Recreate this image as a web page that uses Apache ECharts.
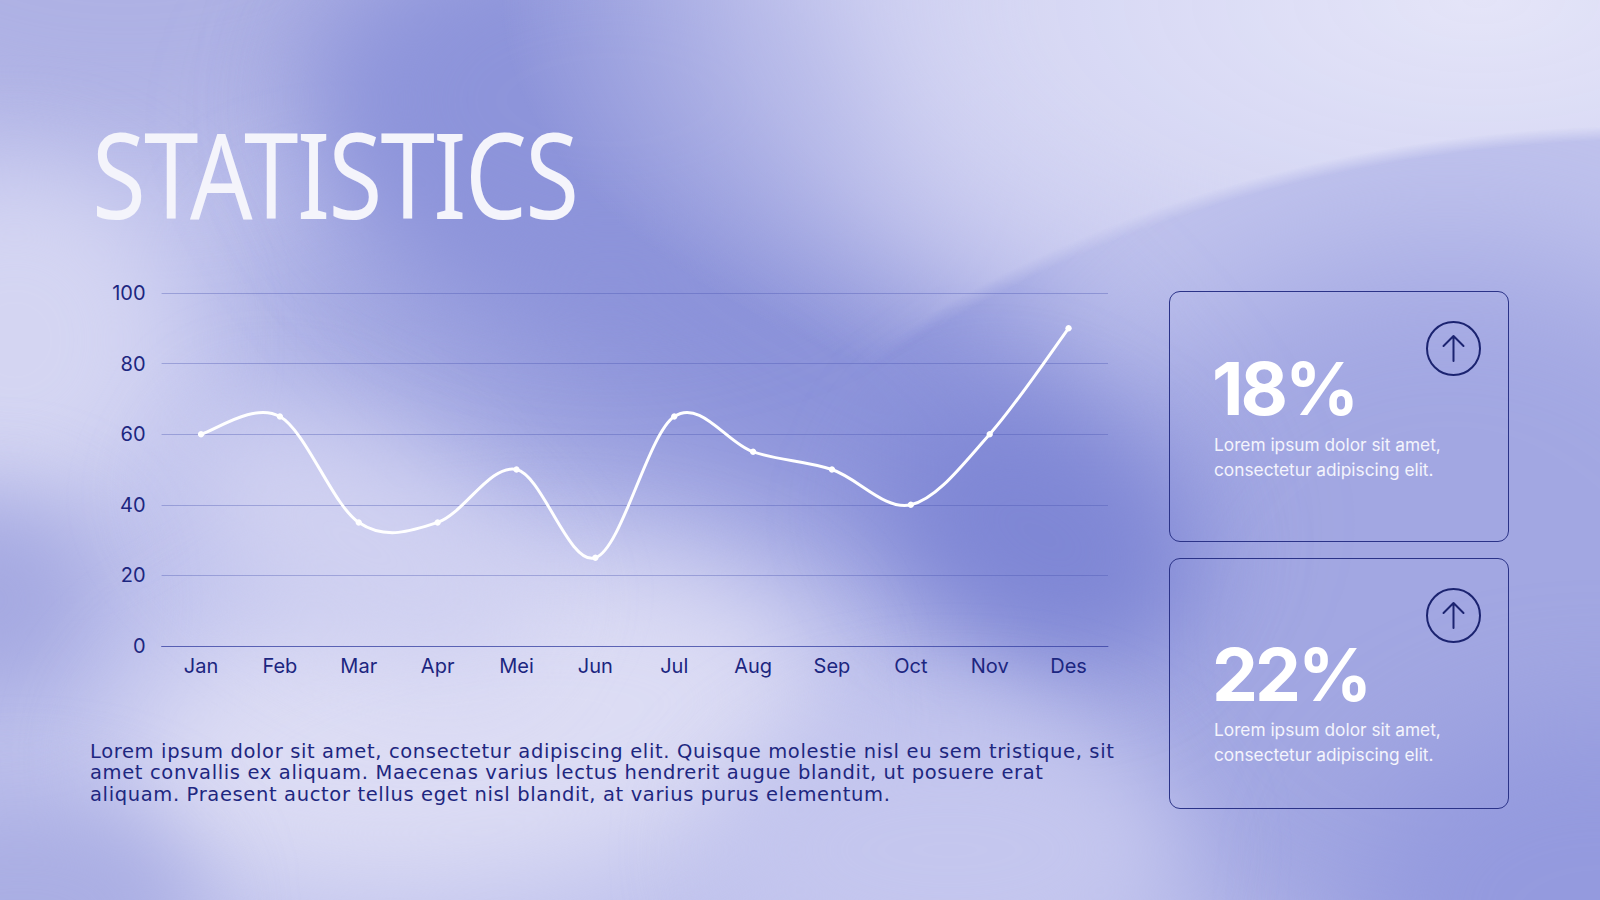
<!DOCTYPE html>
<html>
<head>
<meta charset="utf-8">
<script src="https://cdn.jsdelivr.net/npm/echarts@6/dist/echarts.min.js"></script>
<style>
  html, body { margin:0; padding:0; width:1600px; height:900px; overflow:hidden; }
  body { position:relative; background:#bfc2ed; }
  .bg { position:absolute; left:0; top:0; width:1600px; height:900px; overflow:hidden; }
  .blob { position:absolute; border-radius:50%; }
  #chart { position:absolute; left:0; top:0; width:1600px; height:900px; }
  .title {
    position:absolute; left:92px; top:104px;
    font-family: "Noto Sans", sans-serif; font-weight:400;
    font-size:118px; line-height:140px; color:#f4f4fb; letter-spacing:-2px;
    transform-origin:left top; transform:scaleX(0.83);
    white-space:nowrap;
  }
  .para {
    position:absolute; left:90px;
    font-family: "DejaVu Sans", sans-serif; font-size:19.5px; line-height:21.4px; height:21.4px;
    color:#1e2780; white-space:nowrap; letter-spacing:0.64px;
  }
  .card {
    position:absolute; left:1169px; width:338px; height:249px;
    border:1.3px solid #2b3388; border-radius:11px;
  }
  .circle {
    position:absolute; width:51px; height:51px; border:2px solid #1b2370; border-radius:50%;
  }
  .big {
    position:absolute; left:1212px; font-family: Inter, sans-serif; font-weight:700;
    font-size:73px; line-height:73px; color:#ffffff; letter-spacing:-3px; white-space:nowrap;
  }
  .sub {
    position:absolute; left:1214px; font-family: Inter, sans-serif; font-weight:400;
    font-size:17.3px; line-height:24.5px; color:#f4f4fc; white-space:nowrap;
  }
</style>
</head>
<body>
<div class="bg">
  <!-- right side medium -->
  <div class="blob" style="left:1050px; top:250px; width:800px; height:750px; background:#a2a7e2; filter:blur(70px);"></div>
  <!-- top-left medium -->
  <div class="blob" style="left:-200px; top:-180px; width:650px; height:330px; background:#aeb1e4; filter:blur(60px);"></div>
  <!-- chart-area medium -->
  <div class="blob" style="left:230px; top:250px; width:480px; height:220px; background:#a6abe3; transform:rotate(20deg); filter:blur(60px);"></div>
  <!-- dark diagonal band -->
  <div class="blob" style="left:250px; top:140px; width:1000px; height:360px; background:#8c93da; transform:rotate(33deg); filter:blur(70px);"></div>
  <div class="blob" style="left:330px; top:-90px; width:560px; height:380px; background:#8d94da; filter:blur(60px);"></div>
  <div class="blob" style="left:880px; top:420px; width:320px; height:230px; background:#7f87d5; transform:rotate(30deg); filter:blur(50px);"></div>
  <!-- bottom right -->
  <div class="blob" style="left:1350px; top:720px; width:500px; height:380px; background:#949ade; filter:blur(60px);"></div>
  <!-- left light strip -->
  <div class="blob" style="left:-150px; top:170px; width:330px; height:340px; background:#d4d5f2; filter:blur(50px);"></div>
  <!-- left middle medium -->
  <div class="blob" style="left:-120px; top:500px; width:220px; height:200px; background:#a5a9e1; filter:blur(45px);"></div>
  <!-- light lower centre -->
  <div class="blob" style="left:120px; top:570px; width:700px; height:320px; background:#dcdcf4; transform:rotate(-8deg); filter:blur(55px);"></div>
  <div class="blob" style="left:170px; top:450px; width:380px; height:190px; background:#d0d1f1; transform:rotate(30deg); filter:blur(50px);"></div>
  <!-- bottom centre lighter -->
  <div class="blob" style="left:720px; top:720px; width:460px; height:260px; background:#c4c6ee; filter:blur(50px);"></div>
  <!-- bottom-left corner medium -->
  <div class="blob" style="left:-160px; top:800px; width:360px; height:220px; background:#aaaee3; filter:blur(45px);"></div>
  <!-- top-right light with sharp lower edge -->
  <div style="position:absolute; left:0; top:0; width:1600px; height:900px;
      background: radial-gradient(ellipse 980px 470px at 1480px 0px, rgba(228,228,248,1) 0%, rgba(216,217,244,0.95) 45%, rgba(206,207,241,0.6) 75%, rgba(206,207,241,0) 100%);
      -webkit-mask-image: radial-gradient(ellipse 1150px 830px at 1660px 955px, transparent 98.2%, #000 100%);
      mask-image: radial-gradient(ellipse 1150px 830px at 1660px 955px, transparent 98.2%, #000 100%);"></div>
</div>
<div id="chart"></div>
<div class="title">STATISTICS</div>
<div class="para" style="top:741px;">Lorem ipsum dolor sit amet, consectetur adipiscing elit. Quisque molestie nisl eu sem tristique, sit</div>
<div class="para" style="top:762.4px;">amet convallis ex aliquam. Maecenas varius lectus hendrerit augue blandit, ut posuere erat</div>
<div class="para" style="top:783.8px;">aliquam. Praesent auctor tellus eget nisl blandit, at varius purus elementum.</div>

<div class="card" style="top:291px;"></div>
<div class="card" style="top:558px;"></div>
<div class="circle" style="left:1426px; top:321px;">
  <svg width="51" height="51" viewBox="0 0 51 51"><path d="M25.5 38 V13 M15.5 23 L25.5 13 L35.5 23" fill="none" stroke="#1b2370" stroke-width="2" stroke-linecap="round" stroke-linejoin="round"/></svg>
</div>
<div class="circle" style="left:1426px; top:588px;">
  <svg width="51" height="51" viewBox="0 0 51 51"><path d="M25.5 38 V13 M15.5 23 L25.5 13 L35.5 23" fill="none" stroke="#1b2370" stroke-width="2" stroke-linecap="round" stroke-linejoin="round"/></svg>
</div>
<div class="big" style="top:352px;">18%</div>
<div class="sub" style="top:433px;">Lorem ipsum dolor sit amet,<br>consectetur adipiscing elit.</div>
<div class="big" style="top:638px;">22%</div>
<div class="sub" style="top:718px;">Lorem ipsum dolor sit amet,<br>consectetur adipiscing elit.</div>

<script>
const categories = ['Jan','Feb','Mar','Apr','Mei','Jun','Jul','Aug','Sep','Oct','Nov','Des'];
const values = [60, 65, 35, 35, 50, 25, 65, 55, 50, 40, 60, 90];
const yTicks = { min: 0, max: 100, interval: 20 };

const n = values.length;
function pt(api, i) {
  const k = Math.max(0, Math.min(n - 1, i));
  return api.coord([k, values[k]]);
}

const chart = echarts.init(document.getElementById('chart'), null, { renderer: 'svg' });
chart.setOption({
  backgroundColor: 'transparent',
  animation: false,
  grid: { left: 161.6, right: 492, top: 293, bottom: 254, containLabel: false },
  xAxis: {
    type: 'category',
    data: categories,
    boundaryGap: true,
    axisLine: { show: true, lineStyle: { color: 'rgba(52,62,160,0.65)', width: 1 } },
    axisTick: { show: false },
    axisLabel: { color: '#1c2680', fontSize: 20, fontFamily: 'Inter', margin: 10 }
  },
  yAxis: {
    type: 'value',
    min: yTicks.min, max: yTicks.max, interval: yTicks.interval,
    axisLine: { show: false },
    axisTick: { show: false },
    splitLine: { lineStyle: { color: 'rgba(70,80,175,0.35)', width: 1 } },
    axisLabel: { color: '#1c2680', fontSize: 20, fontFamily: 'Inter', margin: 16 }
  },
  series: [{
    type: 'custom',
    data: values.map((v, i) => [i, v]),
    encode: { x: 0, y: 1 },
    renderItem: function (params, api) {
      const i = params.dataIndex;
      const p1 = pt(api, i);
      const children = [];
      if (i < n - 1) {
        const p0 = pt(api, i - 1), p2 = pt(api, i + 1), p3 = pt(api, i + 2);
        const t = 1 / 6;
        children.push({
          type: 'bezierCurve',
          shape: {
            x1: p1[0], y1: p1[1], x2: p2[0], y2: p2[1],
            cpx1: p1[0] + (p2[0] - p0[0]) * t, cpy1: p1[1] + (p2[1] - p0[1]) * t,
            cpx2: p2[0] - (p3[0] - p1[0]) * t, cpy2: p2[1] - (p3[1] - p1[1]) * t
          },
          style: { stroke: '#ffffff', lineWidth: 3, fill: 'none', lineCap: 'round' }
        });
      }
      children.push({
        type: 'circle', z2: 10,
        shape: { cx: p1[0], cy: p1[1], r: 3.2 },
        style: { fill: '#ffffff' }
      });
      return { type: 'group', children: children };
    }
  }]
});
</script>
</body>
</html>
